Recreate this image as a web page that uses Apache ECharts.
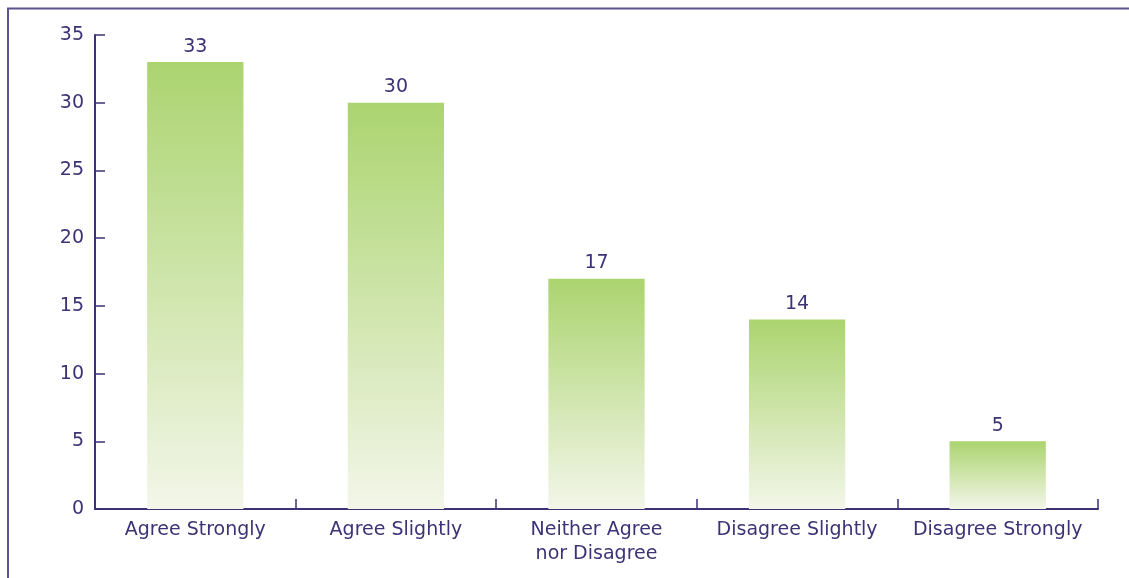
<!DOCTYPE html>
<html>
<head>
<meta charset="utf-8">
<script src="https://cdn.jsdelivr.net/npm/echarts@6/dist/echarts.min.js"></script>
<style>
html,body{margin:0;padding:0;background:#fff;}
#c{width:1129px;height:578px;}
</style>
</head>
<body>
<div id="c"></div>
<script>
var categories = ['Agree Strongly', 'Agree Slightly', 'Neither Agree\nnor Disagree', 'Disagree Slightly', 'Disagree Strongly'];
var values = [33, 30, 17, 14, 5];
var yTicks = [0, 5, 10, 15, 20, 25, 30, 35];

var ink = '#3b3376';
var font = 'DejaVu Sans, Liberation Sans, Arial, sans-serif';
var chart = echarts.init(document.getElementById('c'));
chart.setOption({
  animation: false,
  textStyle: {fontFamily: font},
  graphic: [{
    type: 'rect',
    shape: {x: 8, y: 8.5, width: 1300, height: 700},
    style: {fill: 'none', stroke: '#5a5390', lineWidth: 2},
    silent: true
  }],
  grid: {left: 95, right: 31, top: 35, bottom: 69, containLabel: false},
  xAxis: {
    type: 'category',
    data: categories,
    boundaryGap: true,
    axisLine: {lineStyle: {color: ink, width: 2}},
    axisTick: {show: true, interval: 0, inside: true, length: 10, lineStyle: {color: ink, width: 1.5}},
    axisLabel: {color: ink, fontSize: 19, fontFamily: font, margin: 9, lineHeight: 24, interval: 0}
  },
  yAxis: {
    type: 'value',
    min: yTicks[0],
    max: yTicks[yTicks.length - 1],
    interval: 5,
    splitLine: {show: false},
    axisLine: {show: true, lineStyle: {color: ink, width: 2}},
    axisTick: {show: true, inside: true, length: 10, lineStyle: {color: ink, width: 1.5}},
    axisLabel: {color: ink, fontSize: 19, fontFamily: font, margin: 11}
  },
  series: [{
    type: 'bar',
    data: values,
    barWidth: '48%',
    z: 5,
    itemStyle: {
      color: new echarts.graphic.LinearGradient(0, 0, 0, 1, [
        {offset: 0, color: '#abd46f'},
        {offset: 1, color: '#f3f6e9'}
      ])
    },
    label: {show: true, position: 'top', distance: 6, color: ink, fontSize: 19, fontFamily: font}
  }]
});
</script>
</body>
</html>
